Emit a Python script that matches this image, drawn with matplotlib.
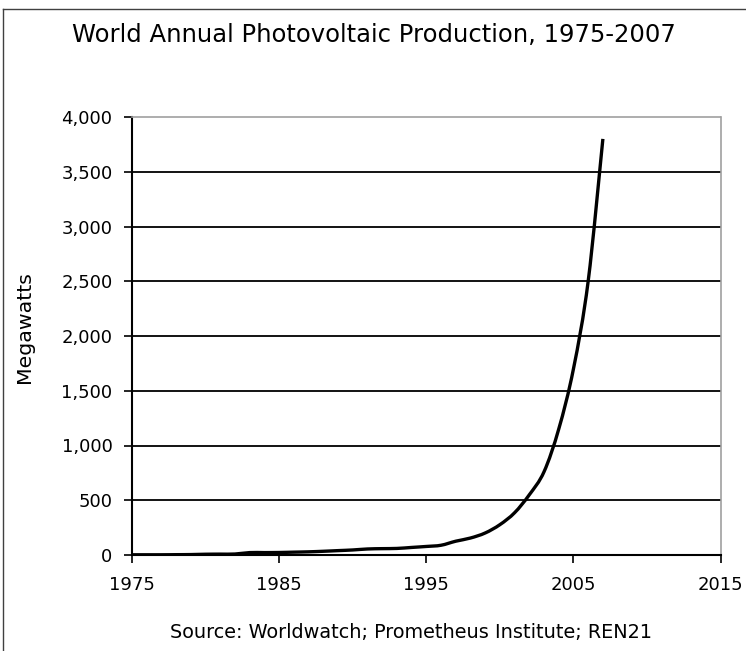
import matplotlib
matplotlib.use("Agg")
import matplotlib.pyplot as plt
from matplotlib.patches import PathPatch
from matplotlib.path import Path
from matplotlib.lines import Line2D
from matplotlib.ticker import FuncFormatter

years = [1975, 1976, 1977, 1978, 1979, 1980, 1981, 1982, 1983, 1984, 1985,
         1986, 1987, 1988, 1989, 1990, 1991, 1992, 1993, 1994, 1995, 1996,
         1997, 1998, 1999, 2000, 2001, 2002, 2003, 2004, 2005, 2006, 2007]
megawatts = [2, 2, 2, 3, 4, 7, 8, 9, 22, 22, 23,
             26, 29, 34, 40, 46, 55, 58, 60, 69, 78, 89,
             126, 155, 201, 277, 386, 550, 760, 1150, 1700, 2500, 3800]
x_ticks = [1975, 1985, 1995, 2005, 2015]
y_ticks = [0, 500, 1000, 1500, 2000, 2500, 3000, 3500, 4000]

FONT = ['DejaVu Sans']
plt.rcParams['font.family'] = FONT

W, H = 746, 651
fig = plt.figure(figsize=(W / 100, H / 100), dpi=100)
ax = fig.add_axes([132 / W, 1 - 555 / H, (720.6 - 132) / W, (555 - 117) / H])

for yv in y_ticks[1:-1]:
    ax.axhline(yv, color='black', lw=1.3, zorder=1)

# smoothed line (Excel-style Catmull-Rom Bezier through the data points)
pts = list(zip(years, megawatts))
verts = [pts[0]]
codes = [Path.MOVETO]
n = len(pts)
for i in range(n - 1):
    p0 = pts[i - 1] if i > 0 else pts[i]
    p1 = pts[i]
    p2 = pts[i + 1]
    p3 = pts[i + 2] if i + 2 < n else pts[i + 1]
    c1 = (p1[0] + (p2[0] - p0[0]) / 6, p1[1] + (p2[1] - p0[1]) / 6)
    c2 = (p2[0] - (p3[0] - p1[0]) / 6, p2[1] - (p3[1] - p1[1]) / 6)
    verts += [c1, c2, p2]
    codes += [Path.CURVE4] * 3
ax.add_patch(PathPatch(Path(verts, codes), fill=False, edgecolor='black',
                       lw=2.4, joinstyle='round', capstyle='butt', zorder=3))

ax.set_xlim(1975, 2015)
ax.set_ylim(0, 4000)
ax.set_xticks(x_ticks)
ax.set_yticks(y_ticks)
ax.yaxis.set_major_formatter(FuncFormatter(lambda v, p: f"{int(v):,}"))
ax.tick_params(axis='both', direction='out', length=6, width=1.2,
               labelsize=13, colors='black')
ax.tick_params(axis='y', pad=8)
ax.tick_params(axis='x', pad=9)

for s in ['left', 'bottom']:
    ax.spines[s].set_color('black')
    ax.spines[s].set_linewidth(1.5)
for s in ['top', 'right']:
    ax.spines[s].set_color('#a0a0a0')
    ax.spines[s].set_linewidth(1.2)
    ax.spines[s].set_linestyle((0, (1, 1)))

title = fig.text(373.5 / W, 1 - 35 / H,
                 'World Annual Photovoltaic Production, 1975-2007',
                 ha='center', va='center', fontsize=16)
source = fig.text(410.5 / W, 1 - 632 / H,
                  'Source: Worldwatch; Prometheus Institute; REN21',
                  ha='center', va='center', fontsize=13)
ylab = fig.text(24 / W, 1 - 327 / H, 'Megawatts', rotation=90,
                ha='center', va='center', fontsize=14)

fig.canvas.draw()
r = fig.canvas.get_renderer()


def fit(t, target, vertical=False):
    bb = t.get_window_extent(r)
    size = bb.height if vertical else bb.width
    t.set_fontsize(t.get_fontsize() * target / size)


fit(title, 607)
fit(source, 481)
fit(ylab, 112, vertical=True)

# outer frame: only left and top edges are visible in the reference
fig.add_artist(Line2D([3 / W, 3 / W], [0, 1 - 9 / H], transform=fig.transFigure,
                      color='#404040', lw=1.0))
fig.add_artist(Line2D([3 / W, 1], [1 - 9 / H, 1 - 9 / H], transform=fig.transFigure,
                      color='#404040', lw=1.0))

fig.savefig('out.png', dpi=100)
